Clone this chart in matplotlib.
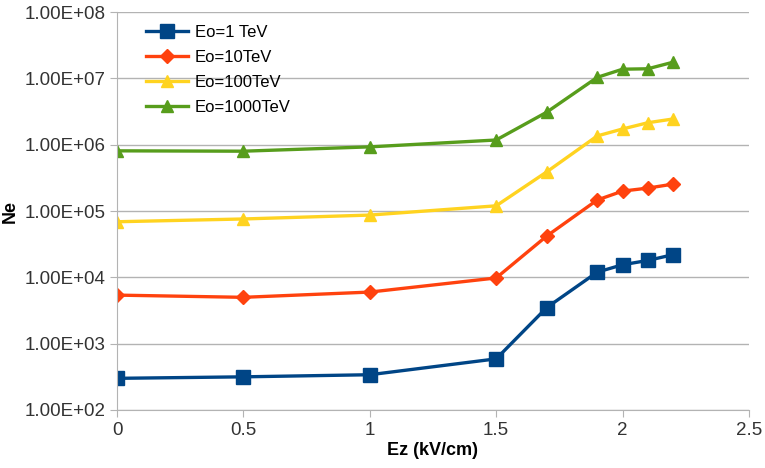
import matplotlib
matplotlib.use("Agg")
import matplotlib.pyplot as plt
from matplotlib.ticker import FuncFormatter

plt.rcParams['font.family'] = ['Liberation Sans', 'DejaVu Sans']

ez = [0, 0.5, 1.0, 1.5, 1.7, 1.9, 2.0, 2.1, 2.2]
ne_1 = [300, 316, 340, 590, 3500, 12000, 15500, 18000, 22000]
ne_10 = [5400, 5000, 6000, 9800, 42000, 147000, 200000, 222000, 255000]
ne_100 = [69000, 76000, 87000, 120000, 390000, 1.36e6, 1.73e6, 2.15e6, 2.45e6]
ne_1000 = [810000, 800000, 930000, 1.18e6, 3.1e6, 1.04e7, 1.38e7, 1.4e7, 1.76e7]

series = [
    ("Eo=1 TeV", ne_1, "#004586", "s", 10),
    ("Eo=10TeV", ne_10, "#ff420e", "D", 7),
    ("Eo=100TeV", ne_100, "#ffd320", "^", 9),
    ("Eo=1000TeV", ne_1000, "#579d1c", "^", 9),
]

fig = plt.figure(figsize=(7.65, 4.68), dpi=100)
ax = fig.add_axes([0.153, 0.124, 0.826, 0.85])

for label, vals, col, mk, ms in series:
    ax.plot(ez, vals, color=col, marker=mk, markersize=ms, linewidth=2.4, label=label)

ax.set_yscale("log")
ax.set_ylim(1e2, 1e8)
ax.set_xlim(0, 2.5)
ax.set_xticks([0, 0.5, 1, 1.5, 2, 2.5])
ax.set_xticklabels(["0", "0.5", "1", "1.5", "2", "2.5"])
ax.set_yticks([1e2, 1e3, 1e4, 1e5, 1e6, 1e7, 1e8])
ax.yaxis.set_major_formatter(FuncFormatter(lambda v, p: "%.2E" % v))
ax.minorticks_off()

ax.grid(axis="y", color="#b3b3b3", linewidth=1)
ax.set_axisbelow(True)
for s in ["top", "right"]:
    ax.spines[s].set_visible(False)
for s in ["left", "bottom"]:
    ax.spines[s].set_color("#b3b3b3")
ax.tick_params(colors="#b3b3b3", labelcolor="#333333", labelsize=13.5, length=5)

ax.set_xlabel("Ez (kV/cm)", fontsize=13, fontweight="bold", labelpad=2)
ax.set_ylabel("Ne", fontsize=13, fontweight="bold", labelpad=4)

ax.legend(loc="upper left", frameon=False, fontsize=12, handlelength=2.5,
          bbox_to_anchor=(0.02, 1.01), borderaxespad=0.6, labelspacing=0.6,
          handletextpad=0.4)

fig.savefig("out.png", dpi=100)
